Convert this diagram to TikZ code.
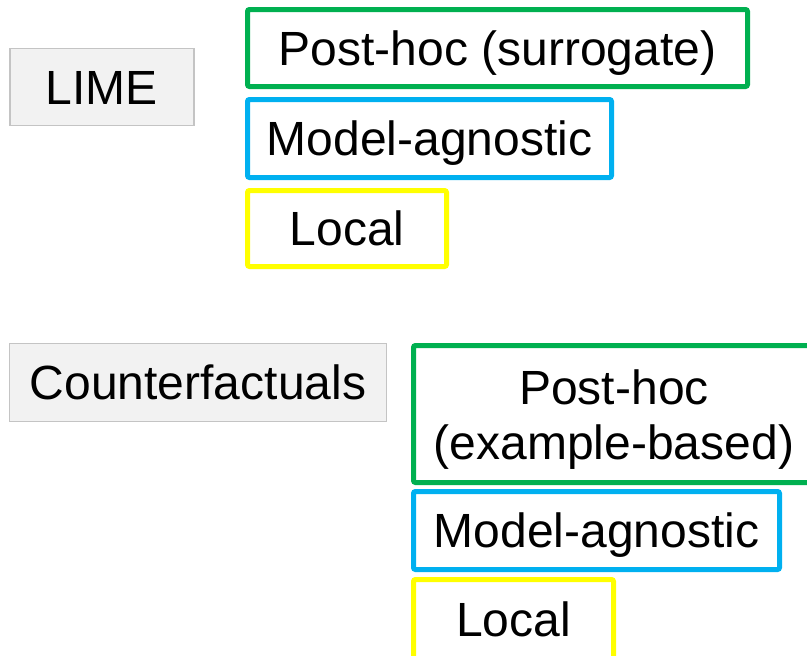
\documentclass[tikz,border=0pt]{standalone}
\usepackage{fontspec}
\setmainfont{Liberation Sans}
\definecolor{tagGreen}{HTML}{00B050}
\definecolor{tagBlue}{HTML}{00B0F0}
\definecolor{tagYellow}{HTML}{FFFF00}
\definecolor{methodFill}{HTML}{F2F2F2}
\definecolor{methodLine}{HTML}{C4C4C4}
\tikzset{
  txt/.style={font=\fontsize{48}{55}\selectfont, inner sep=0pt, outer sep=0pt,
              align=center, text=black},
  % fixed text box so that capitals sit at the middle of each box
  capmid/.style={text height=43.2pt, text depth=8.8pt},
  method/.style={txt, capmid, draw=methodLine, fill=methodFill, line width=1.5pt},
  tag/.style={txt, line width=5pt, rounded corners=2pt},
  postbox/.style={tag, draw=tagGreen},
  agnbox/.style={tag, capmid, draw=tagBlue},
  scopebox/.style={tag, capmid, draw=tagYellow},
}
\begin{document}
\begin{tikzpicture}[x=1pt, y=-1pt]
  \useasboundingbox (0,0) rectangle (807,656);

  % LIME and its tags
  \node[method, minimum width=184pt, minimum height=77pt] (lime) at (101.75,87) {LIME};
  \node[postbox, capmid, minimum width=500pt, minimum height=77pt] (limePost) at (497.5,48) {Post-hoc (surrogate)};
  \node[agnbox, minimum width=364pt, minimum height=78pt] (limeAgn) at (429.5,138.5) {Model-agnostic};
  \node[scopebox, minimum width=199pt, minimum height=76pt] (limeLocal) at (347,228.5) {Local};

  % Counterfactuals and its tags
  \node[method, minimum width=377pt, minimum height=78pt] (cf) at (198,382.5) {Counterfactuals};
  \node[postbox, minimum width=401pt, minimum height=137pt] (cfPost) at (614,414) {};
  \node[txt] (cfPostText) at (614,420) {Post-hoc\\(example-based)};
  \node[agnbox, minimum width=366pt, minimum height=78pt] (cfAgn) at (596.5,530.5) {Model-agnostic};
  \node[scopebox, minimum width=200pt, minimum height=80pt] (cfLocal) at (513.5,619.5) {Local};
\end{tikzpicture}
\end{document}
